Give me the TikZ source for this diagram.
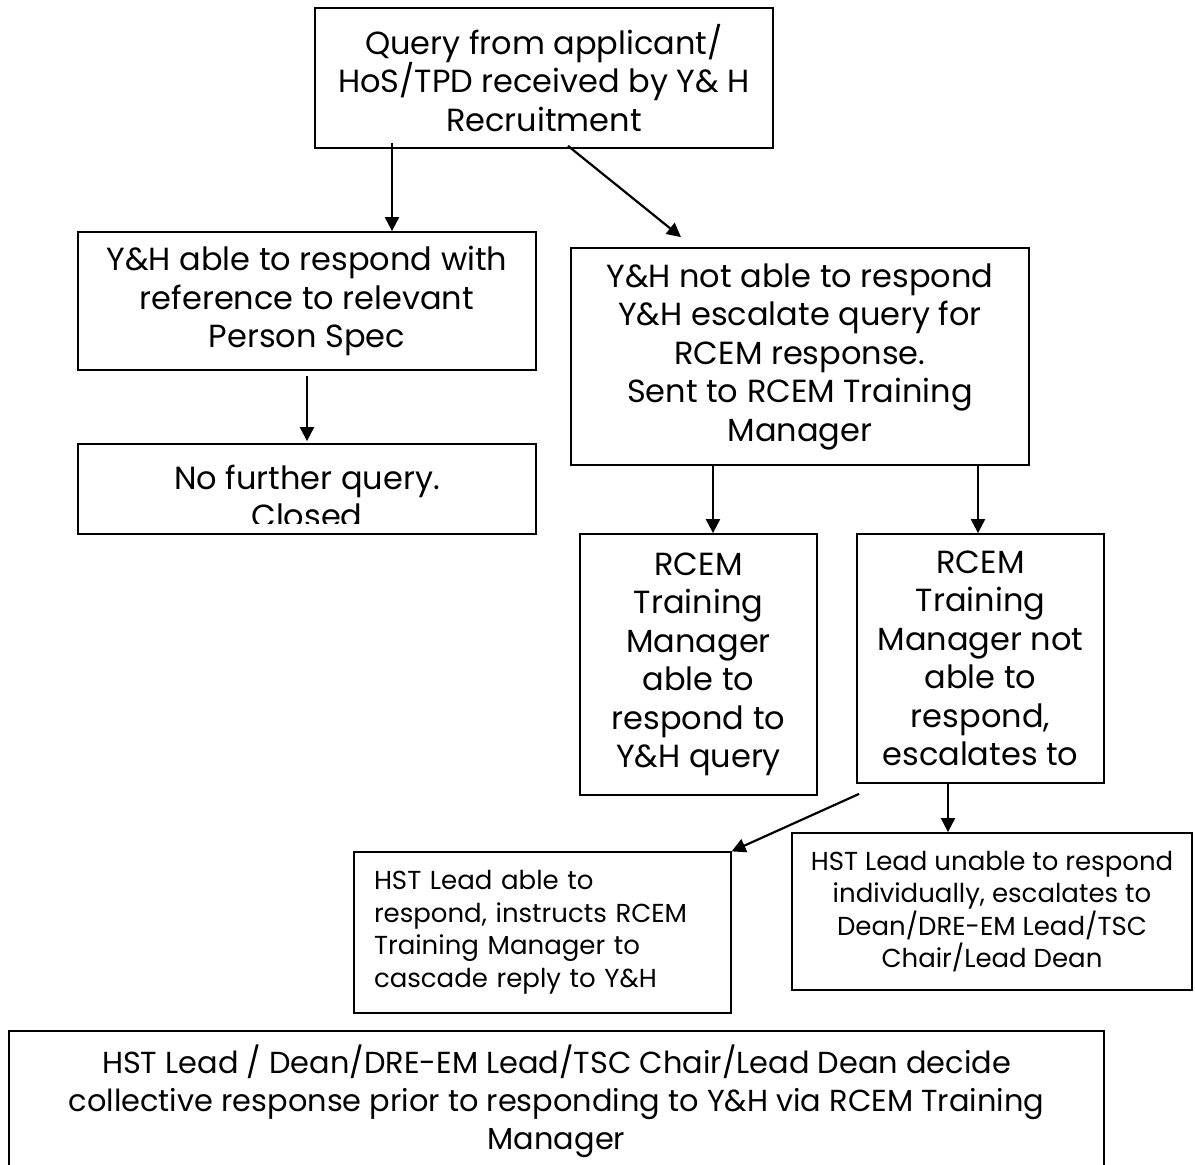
\documentclass[tikz,border=0pt]{standalone}
\usepackage{fontspec}
\setmainfont{Poppins}
\usetikzlibrary{positioning, arrows.meta}
\newcommand{\bigtext}{\fontsize{16}{19.25}\selectfont}
\newcommand{\widetext}{\fontsize{15.2}{19}\selectfont}
\newcommand{\smalltext}{\fontsize{13}{16.25}\selectfont}
\tikzset{
    >={Triangle[width=7pt,length=7pt]}, % filled arrow heads
    box/.style={draw, line width=0.9pt, inner sep=0pt, align=center, font=\bigtext}, % every box
    smallbox/.style={box, line width=0.6pt, font=\smalltext}, % boxes of the last row
    link/.style={->, line width=1.1pt}, % connectors between boxes
}
\begin{document}
\begin{tikzpicture}[x=0.5pt, y=-0.5pt]
    \useasboundingbox (0,0) rectangle (1195,1165);
    \clip (0,0) rectangle (1195,1165);

    \node[box, minimum width=229pt, minimum height=70pt] (query) at (544,78)
        {Query from applicant/\\HoS/TPD received by Y\& H\\Recruitment};
    \node[box, minimum width=229pt, minimum height=69pt] (yhable) at (307,301)
        {Y\&H able to respond with\\reference to relevant\\Person Spec};
    \node[box, minimum width=229pt, minimum height=45pt] (closed) at (307,489) {};
    \begin{scope}
        \clip (closed.north west) rectangle ([yshift=5.5pt]closed.south east);
        \node[font=\bigtext, align=center] (closedtext) at ([yshift=-3.75pt]closed.center)
            {No further query.\\Closed};
    \end{scope}
    \node[box, minimum width=229pt, minimum height=108.5pt] (yhnot) at (800,356.5)
        {Y\&H not able to respond\\Y\&H escalate query for\\RCEM response.\\Sent to RCEM Training\\Manager};
    \node[box, minimum width=118.5pt, minimum height=130.5pt] (rcemable) at (698.5,664.5)
        {RCEM\\Training\\Manager\\able to\\respond to\\Y\&H query};
    \node[box, minimum width=123.5pt, minimum height=124.5pt] (rcemnot) at (980.5,658.5)
        {RCEM\\Training\\Manager not\\able to\\respond,\\escalates to};
    \node[smallbox, align=left, text width=168.5pt, minimum width=188.5pt, minimum height=80.5pt] (hstable) at (542.5,932.5)
        {HST Lead able to\\respond, instructs RCEM\\Training Manager to\\cascade reply to Y\&H};
    \node[smallbox, line width=0.9pt, minimum width=200pt, minimum height=78.5pt] (hstunable) at (992,911.5)
        {HST Lead unable to respond\\individually, escalates to\\Dean/DRE-EM Lead/TSC\\Chair/Lead Dean};
    \node[box, font=\widetext, minimum width=547.5pt, minimum height=70pt] (collective) at (556.5,1101)
        {HST Lead / Dean/DRE-EM Lead/TSC Chair/Lead Dean decide\\collective response prior to responding to Y\&H via RCEM Training\\Manager};

    \draw[link] ([xshift=-76pt,yshift=3pt]query.south) -- ([xshift=-76pt]query.south |- yhable.north);
    \draw[link] ([xshift=12pt,yshift=1.5pt]query.south) -- ([xshift=-59.5pt,yshift=5pt]yhnot.north);
    \draw[link, shorten <=2.5pt, shorten >=1pt] (yhable.south) -- (closed.north);
    \draw[link] ([xshift=-43.5pt]yhnot.south) -- ([xshift=-43.5pt]yhnot.south |- rcemable.north);
    \draw[link] ([xshift=89pt]yhnot.south) -- ([xshift=89pt]yhnot.south |- rcemnot.north);
    \draw[link] ([shift={(1.5pt,-5pt)}]rcemnot.south west) -- (hstable.north east);
    \draw[link] ([xshift=-16.25pt]rcemnot.south) -- ([xshift=-16.25pt]rcemnot.south |- hstunable.north);
\end{tikzpicture}
\end{document}
